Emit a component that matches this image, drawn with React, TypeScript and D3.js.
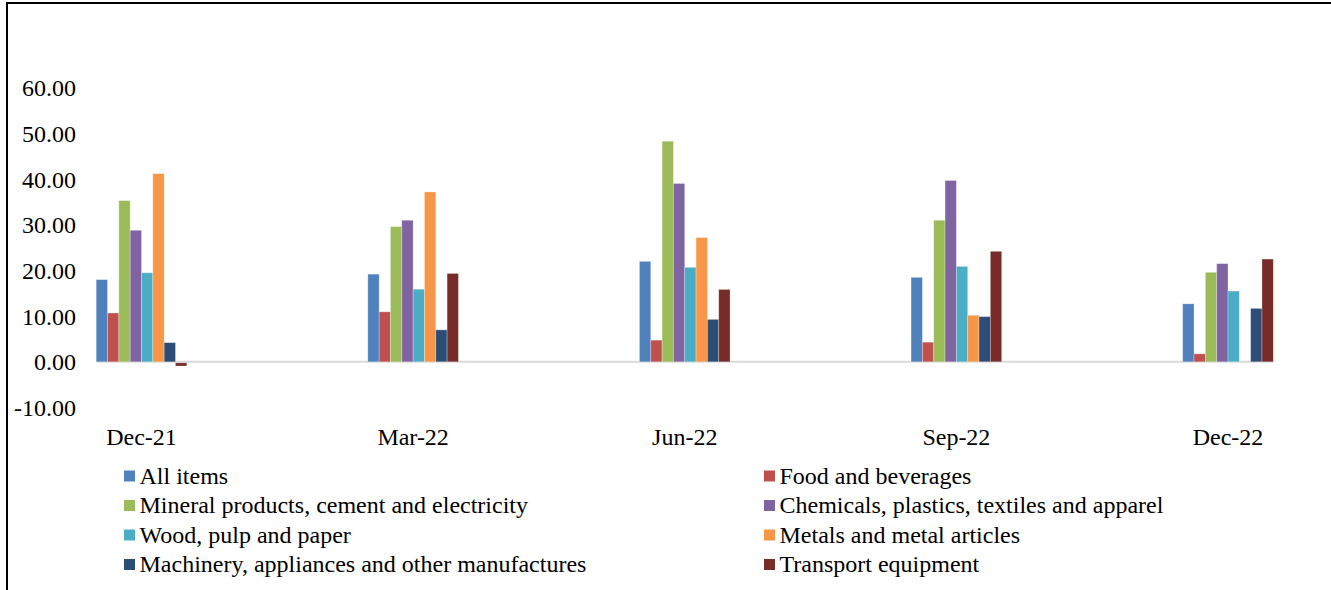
import { useEffect, useRef } from 'react';
import * as d3 from 'd3';

const quarters = ['Dec-21', 'Mar-22', 'Jun-22', 'Sep-22', 'Dec-22'];

const seriesNames = [
  'All items',
  'Food and beverages',
  'Mineral products, cement and electricity',
  'Chemicals, plastics, textiles and apparel',
  'Wood, pulp and paper',
  'Metals and metal articles',
  'Machinery, appliances and other manufactures',
  'Transport equipment',
];

const seriesColors = [
  '#4F81BD',
  '#C0504D',
  '#9BBB59',
  '#8064A2',
  '#4BACC6',
  '#F79646',
  '#2C4D75',
  '#772C2A',
];

// one array per series, in quarter order
const allItems = [18.0, 19.2, 22.0, 18.5, 12.7];
const foodBeverages = [10.7, 10.95, 4.75, 4.3, 1.75];
const mineralProducts = [35.3, 29.6, 48.3, 31.0, 19.6];
const chemicals = [28.8, 31.0, 39.05, 39.7, 21.5];
const woodPulp = [19.5, 15.9, 20.7, 20.9, 15.5];
const metals = [41.2, 37.2, 27.2, 10.2, null];
const machinery = [4.2, 7.0, 9.3, 9.9, 11.7];
const transport = [-0.7, 19.35, 15.85, 24.2, 22.5];

const seriesValues: (number | null)[][] = [
  allItems,
  foodBeverages,
  mineralProducts,
  chemicals,
  woodPulp,
  metals,
  machinery,
  transport,
];

const yTicks = [-10, 0, 10, 20, 30, 40, 50, 60];

export default function App() {
  const svgRef = useRef<SVGSVGElement>(null);

  useEffect(() => {
    if (!svgRef.current) return;
    const width = 1331;
    const height = 590;
    const font = '"Liberation Serif", "Times New Roman", serif';

    const svg = d3.select(svgRef.current).attr('width', width).attr('height', height);
    svg.selectAll('*').remove();

    // frame lines (only top and left show)
    svg.append('line')
      .attr('x1', 6).attr('x2', width).attr('y1', 3).attr('y2', 3)
      .attr('stroke', '#000').attr('stroke-width', 2);
    svg.append('line')
      .attr('x1', 7).attr('x2', 7).attr('y1', 3).attr('y2', height)
      .attr('stroke', '#000').attr('stroke-width', 2);

    const y = d3.scaleLinear().domain([-10, 60]).range([407.5, 87.8]);

    const x = d3.scalePoint<string>().domain(quarters).range([141.5, 1228]);
    const groupWidth = 90.6;
    const xInner = d3
      .scaleBand<number>()
      .domain(d3.range(seriesNames.length))
      .range([-groupWidth / 2, groupWidth / 2])
      .padding(0);

    // y labels
    svg.append('g')
      .selectAll('text')
      .data(yTicks)
      .enter()
      .append('text')
      .attr('x', 76)
      .attr('y', (d) => y(d))
      .attr('dy', '0.35em')
      .attr('text-anchor', 'end')
      .style('font-family', font)
      .style('font-size', '24px')
      .style('fill', '#000')
      .text((d) => d.toFixed(2));

    // zero line, under the bars
    svg.append('line')
      .attr('x1', (x(quarters[0]) ?? 0) - groupWidth / 2)
      .attr('x2', (x(quarters[quarters.length - 1]) ?? 0) + groupWidth / 2)
      .attr('y1', y(0))
      .attr('y2', y(0))
      .attr('stroke', '#d9d9d9')
      .attr('stroke-width', 2);

    // bars
    const rows = quarters.flatMap((q, qi) =>
      seriesValues.map((vals, si) => ({ q, si, v: vals[qi] }))
    ).filter((d) => d.v !== null) as { q: string; si: number; v: number }[];

    svg.append('g')
      .selectAll('rect')
      .data(rows)
      .enter()
      .append('rect')
      .attr('x', (d) => (x(d.q) ?? 0) + (xInner(d.si) ?? 0))
      .attr('y', (d) => (d.v >= 0 ? y(d.v) : y(0) + 1))
      .attr('width', xInner.bandwidth())
      .attr('height', (d) => Math.abs(y(d.v) - y(0)))
      .attr('fill', (d) => seriesColors[d.si])
      .attr('stroke', 'rgba(255,255,255,0.35)')
      .attr('stroke-width', 0.8);

    // category labels
    svg.append('g')
      .selectAll('text')
      .data(quarters)
      .enter()
      .append('text')
      .attr('x', (d) => x(d) ?? 0)
      .attr('y', 437)
      .attr('dy', '0.35em')
      .attr('text-anchor', 'middle')
      .style('font-family', font)
      .style('font-size', '24px')
      .style('fill', '#000')
      .text((d) => d);

    // legend, two columns
    const legendCols = [124, 764];
    const legendRows = [475.5, 505, 534.5, 564];
    const legend = svg.append('g')
      .selectAll('g')
      .data(seriesNames)
      .enter()
      .append('g')
      .attr('transform', (_d, i) => `translate(${legendCols[i % 2]},${legendRows[Math.floor(i / 2)]})`);

    legend.append('rect')
      .attr('x', 0)
      .attr('y', -5)
      .attr('width', 11)
      .attr('height', 11)
      .attr('fill', (_d, i) => seriesColors[i]);

    legend.append('text')
      .attr('x', 15.5)
      .attr('y', 0)
      .attr('dy', '0.35em')
      .style('font-family', font)
      .style('font-size', '24px')
      .style('fill', '#000')
      .text((d) => d);
  }, []);

  return (
    <div style={{ position: 'absolute', left: 0, top: 0, width: 1331, height: 590, background: '#fff' }}>
      <svg ref={svgRef} style={{ display: 'block' }} />
    </div>
  );
}
